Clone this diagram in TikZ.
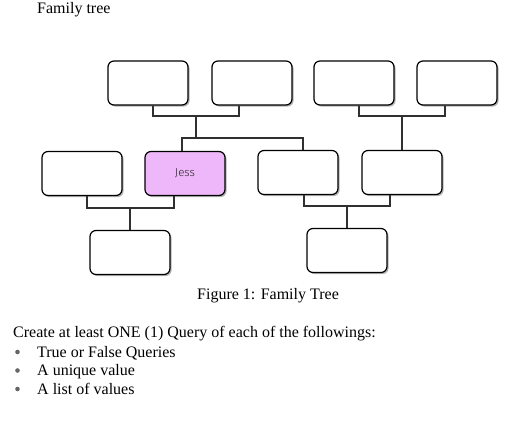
\documentclass[tikz,border=0pt]{standalone}
\usepackage{fontspec}
\setmainfont{Liberation Serif}
\newfontfamily\handfont{Fira Sans Light}
\usetikzlibrary{shadows}
\definecolor{jesspink}{HTML}{EEB7F9}
\definecolor{linegray}{HTML}{303030}
\tikzset{
  person/.style={draw=black, line width=1.2pt, rounded corners=6pt, fill=white,
    minimum width=80pt, minimum height=44pt, inner sep=0pt,
    drop shadow={shadow xshift=1.6pt, shadow yshift=-1.6pt, opacity=0.3, fill=black}},
  conn/.style={draw=linegray, line width=1.1pt},
  txt/.style={inner sep=0pt, font=\fontsize{16}{19}\selectfont},
  bulletdot/.style={circle, fill=black!60, inner sep=0pt, minimum size=4.6pt}
}
\begin{document}
\begin{tikzpicture}[x=1pt,y=-1pt]
\useasboundingbox (0,0) rectangle (532,422);
% title
\node[txt, anchor=base west] (title) at (37,14) {Family tree};
% row 1
\node[person] (A) at (148,83) {};
\node[person] (B) at (252,83) {};
\node[person] (C) at (354,83) {};
\node[person] (D) at (457,83) {};
% row 2
\node[person] (E) at (82,173.5) {};
\node[person, fill=jesspink] (J) at (185,173.5) {\handfont\fontsize{11.5}{12}\selectfont\color{black!85}Jess};
\node[person] (G) at (298,172.5) {};
\node[person] (H) at (402,172.5) {};
% row 3
\node[person] (K) at (130,252.5) {};
\node[person] (L) at (347,250.5) {};
% junction coordinates
\coordinate (ab) at (196,116);
\coordinate (jg) at (240,138);
\coordinate (cd) at (402,116);
\coordinate (ej) at (130,208);
\coordinate (gh) at (347,206);
% connectors
\draw[conn] ([xshift=5]A.south) |- (ab) -| ([xshift=-13]B.south);
\draw[conn] (ab) -- (ab |- jg);
\draw[conn] ([xshift=-3]J.north) |- (jg) -| ([xshift=5]G.north);
\draw[conn] ([xshift=5]C.south) |- (cd) -| ([xshift=-12]D.south);
\draw[conn] (cd) -- (H.north);
\draw[conn] ([xshift=5]E.south) |- (ej) -| ([xshift=-11]J.south);
\draw[conn] (ej) -- (K.north);
\draw[conn] ([xshift=6]G.south) |- (gh) -| ([xshift=-12]H.south);
\draw[conn] (gh) -- (L.north);
% caption
\node[txt, anchor=base west] (cap) at (197,299) {Figure 1: Family Tree};
% text
\node[txt, anchor=base west] (intro) at (13,337) {Create at least ONE (1) Query of each of the followings:};
\node[bulletdot] (b1) at (17.5,352) {};
\node[txt, anchor=base west] (t1) at (37,357) {True or False Queries};
\node[bulletdot] (b2) at (17.5,370.5) {};
\node[txt, anchor=base west] (t2) at (37,375.5) {A unique value};
\node[bulletdot] (b3) at (17.5,389) {};
\node[txt, anchor=base west] (t3) at (37,394) {A list of values};
\end{tikzpicture}
\end{document}
